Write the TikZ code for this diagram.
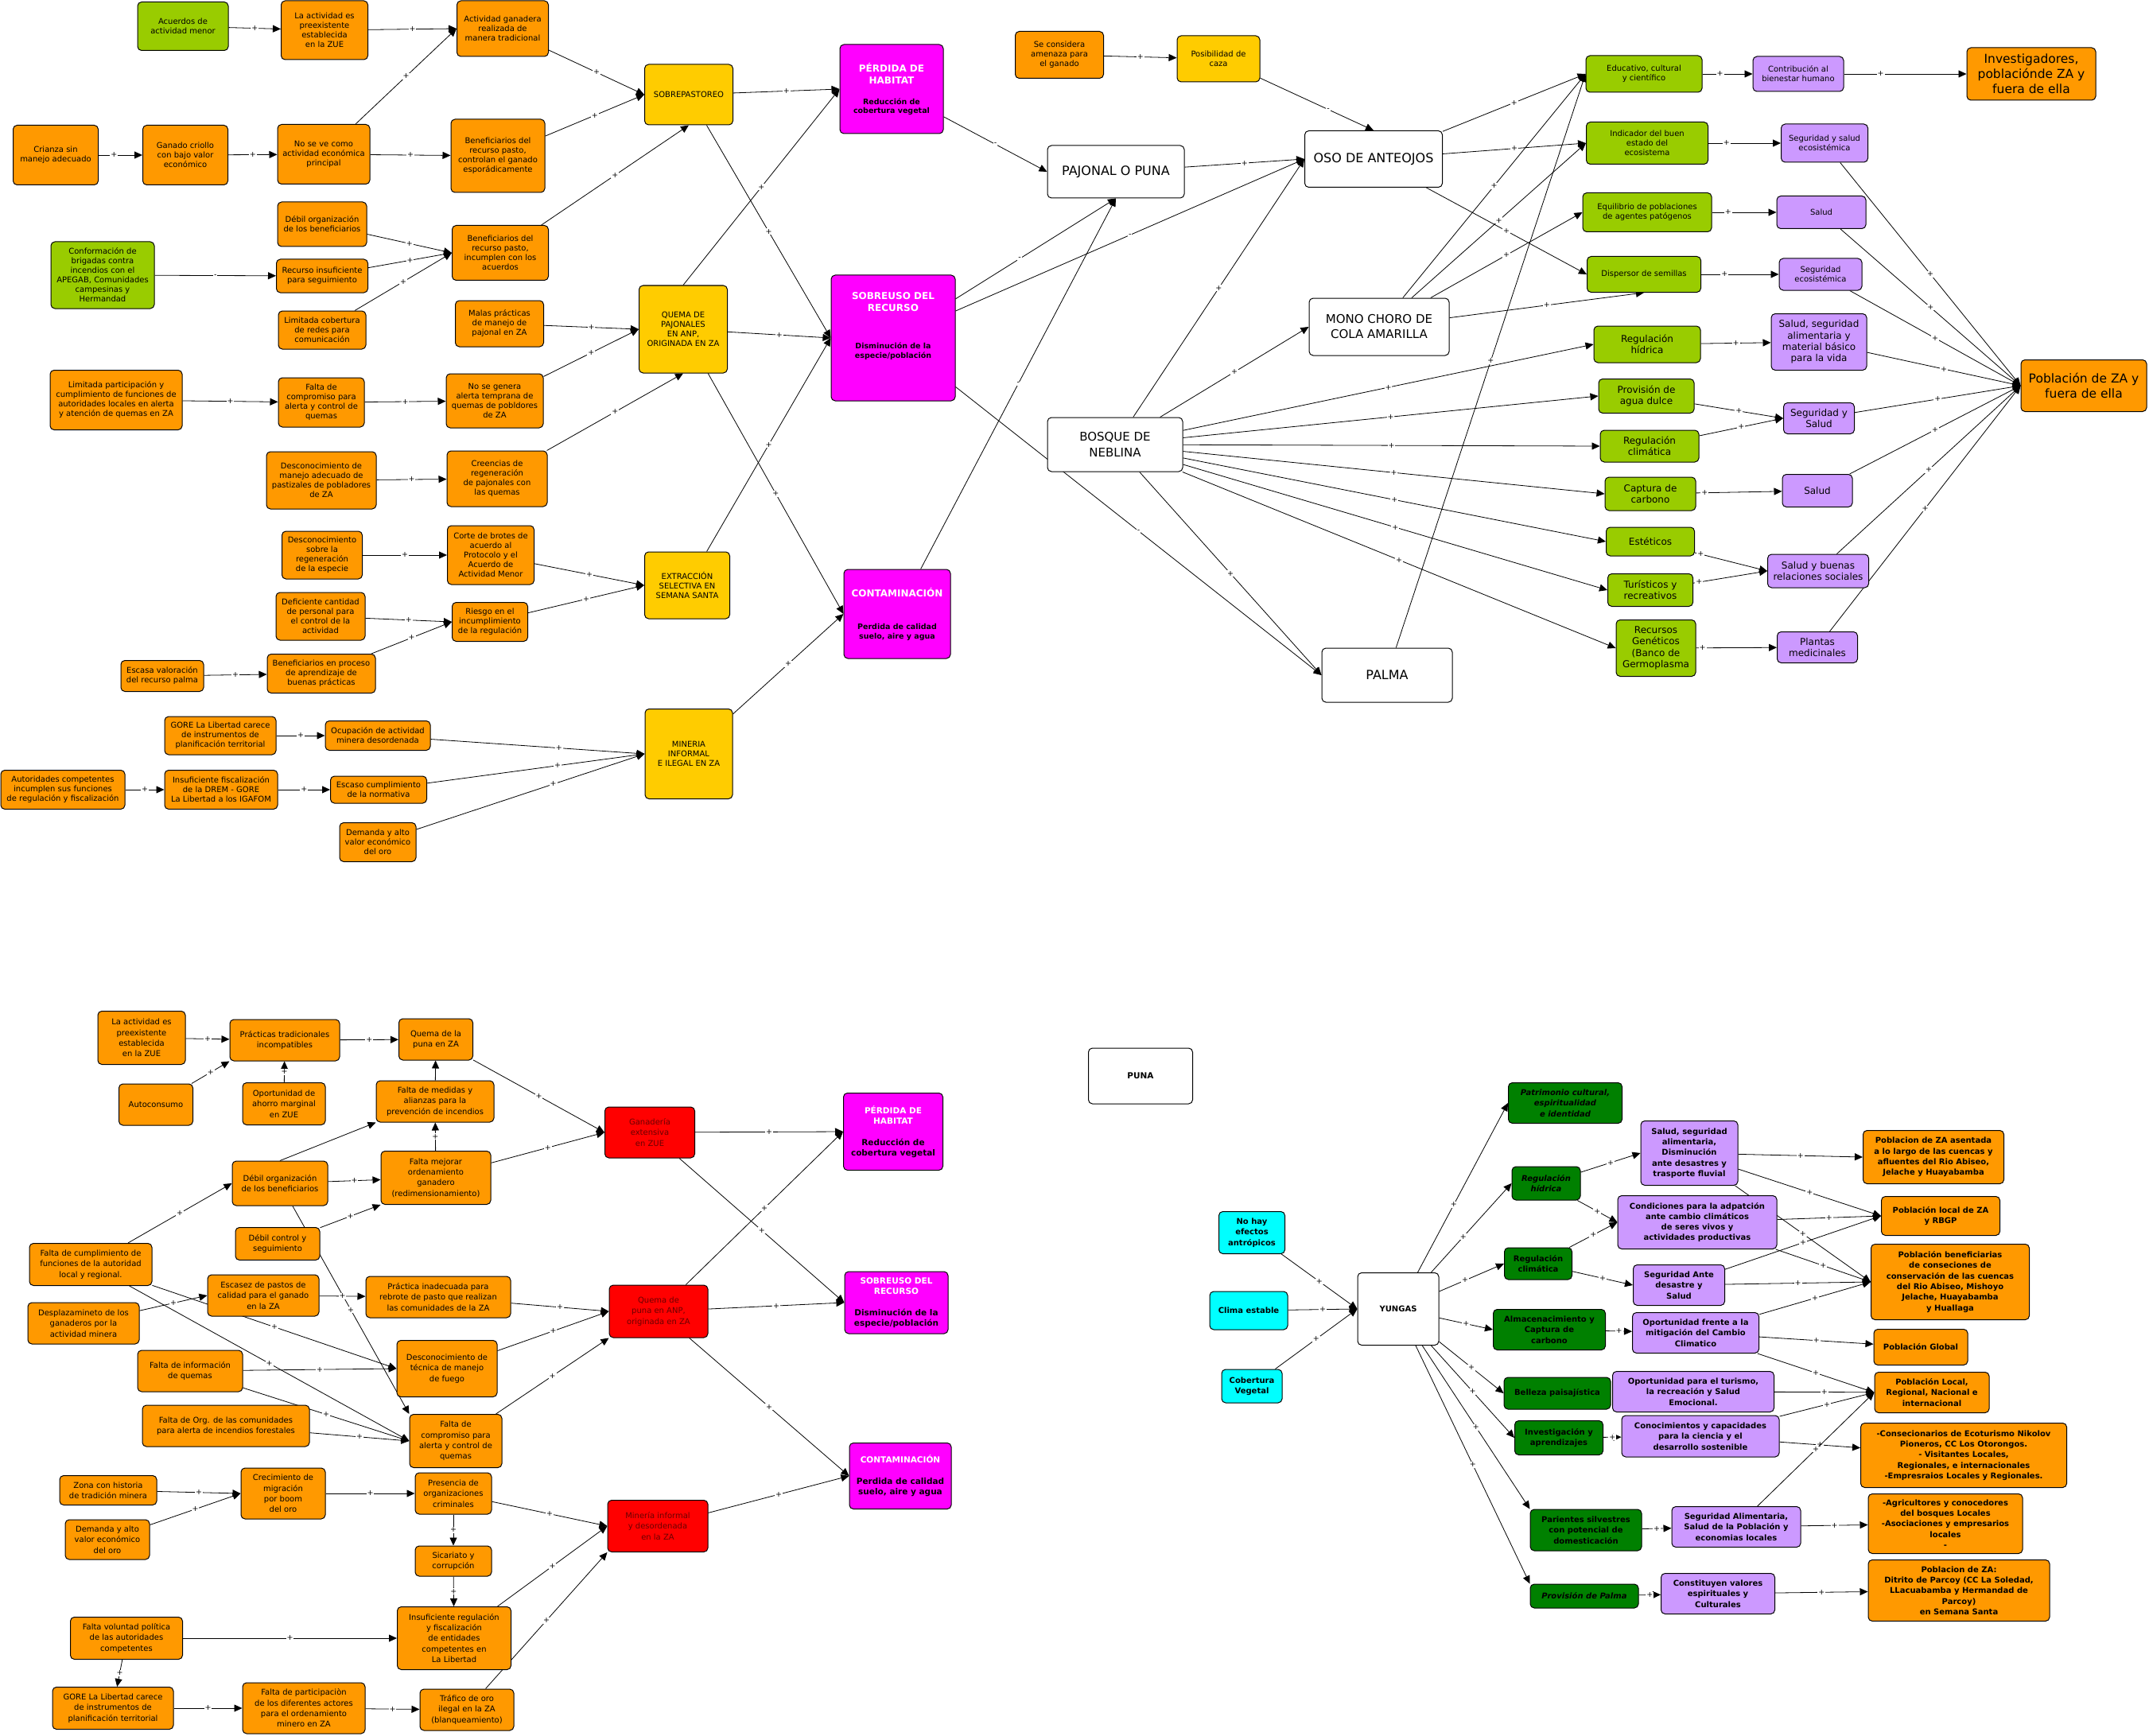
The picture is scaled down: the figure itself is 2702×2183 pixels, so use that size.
\documentclass[tikz,border=0pt]{standalone}
\usepackage{fontspec}
\setmainfont{DejaVu Sans}
\usetikzlibrary{arrows.meta}
\pgfdeclarelayer{background}
\pgfsetlayers{background,main}

\definecolor{naranja}{HTML}{FF9900}
\definecolor{verdeclaro}{HTML}{99CC00}
\definecolor{amarillo}{HTML}{FFCC00}
\definecolor{fucsia}{HTML}{FF00FF}
\definecolor{lila}{HTML}{CC99FF}
\definecolor{rojo}{HTML}{FF0000}
\definecolor{verdeoscuro}{HTML}{008000}
\definecolor{celeste}{HTML}{00FFFF}
\definecolor{granate}{HTML}{6A0000}

\newcommand{\cab}[1]{\textcolor{white}{\fontsize{12}{14}\selectfont #1}}
\newcommand{\cabb}[1]{\textcolor{white}{#1}}

\begin{document}
\begin{tikzpicture}[x=1pt,y=-1pt,
  caja/.style={draw,line width=1pt,rounded corners=5pt,align=center,inner sep=1pt,
    font=\fontsize{10}{12}\selectfont},
  tam/.style 2 args={minimum width=#1pt,minimum height=#2pt},
  nar/.style={caja,fill=naranja},
  ver/.style={caja,fill=verdeclaro},
  ama/.style={caja,fill=amarillo},
  fuc/.style={caja,fill=fucsia,font=\fontsize{9.5}{11.5}\selectfont\bfseries},
  lil/.style={caja,fill=lila},
  roj/.style={caja,fill=rojo,text=granate},
  bla/.style={caja,fill=white},
  vos/.style={caja,fill=verdeoscuro,font=\fontsize{10}{13.3}\selectfont\bfseries},
  cel/.style={caja,fill=celeste,font=\fontsize{10}{13.3}\selectfont\bfseries},
  grande/.style={font=\fontsize{16}{19}\selectfont},
  medio/.style={font=\fontsize{12}{14.3}\selectfont},
  bajo/.style={font=\fontsize{10}{13.3}\selectfont},
  neg/.style={font=\fontsize{10}{13.3}\selectfont\bfseries},
  cur/.style={font=\fontsize{10}{13.3}\selectfont\bfseries\itshape},
  flecha/.style={-{Triangle[length=10pt,width=9pt]},line width=0.8pt},
  mas/.style={fill=white,inner sep=1pt,font=\fontsize{9.5}{9.5}\selectfont}]
  \useasboundingbox (0,0) rectangle (2702,2183);
  % --- parte superior: causas ---
  \node[ver,tam={114}{61}] (acuerdos) at (230,33) {Acuerdos de\\actividad menor};
  \node[nar,tam={109}{74}] (preexist) at (408,38) {La actividad es\\preexistente\\establecida\\en la ZUE};
  \node[nar,tam={115}{70}] (actganadera) at (632,36) {Actividad ganadera\\realizada de\\manera tradicional};
  \node[nar,tam={107}{75}] (crianza) at (70,195) {Crianza sin\\manejo adecuado};
  \node[nar,tam={107}{75}] (ganado) at (233,195) {Ganado criollo\\con bajo valor\\económico};
  \node[nar,tam={116}{75}] (noseve) at (407,194) {No se ve como\\actividad económica\\principal};
  \node[nar,tam={118}{92}] (benefcontrolan) at (626,196) {Beneficiarios del\\recurso pasto,\\controlan el ganado\\esporádicamente};
  \node[nar,tam={112}{56}] (debilorg) at (405,282) {Débil organización\\de los beneficiarios};
  \node[nar,tam={121}{69}] (benefincumplen) at (629,318) {Beneficiarios del\\recurso pasto,\\incumplen con los\\acuerdos};
  \node[ver,tam={130}{84}] (brigadas) at (129,346) {Conformación de\\brigadas contra\\incendios  con el\\APEGAB, Comunidades\\campesinas y\\Hermandad};
  \node[nar,tam={115}{42}] (recursoins) at (405,347) {Recurso insuficiente\\para seguimiento};
  \node[nar,tam={110}{48}] (limcobertura) at (405,415) {Limitada cobertura\\de redes para\\comunicación};
  \node[nar,tam={111}{58}] (malaspract) at (628,407) {Malas prácticas\\de manejo de\\pajonal en ZA};
  \node[nar,tam={166}{75}] (limpartic) at (146,503) {Limitada participación y\\cumplimiento de funciones de\\autoridades locales en alerta\\y atención de quemas en ZA};
  \node[nar,tam={108}{62}] (faltacompr) at (404,506) {Falta de\\compromiso para\\alerta y control de\\quemas};
  \node[nar,tam={122}{68}] (nosegenera) at (622,504) {No se genera\\alerta temprana de\\quemas de pobldores\\de ZA};
  \node[nar,tam={138}{72}] (desconpast) at (404,604) {Desconocimiento de\\manejo adecuado de\\pastizales de pobladores\\de ZA};
  \node[nar,tam={126}{70}] (creencias) at (625,602) {Creencias de\\regeneración\\de pajonales con\\las quemas};
  \node[nar,tam={101}{60}] (desconreg) at (405,698) {Desconocimiento\\sobre la\\regeneración\\de la especie};
  \node[nar,tam={109}{74}] (cortebrotes) at (617,698) {Corte de brotes de\\acuerdo al\\Protocolo y el\\Acuerdo de\\Actividad Menor};
  \node[nar,tam={112}{60}] (deficiente) at (403,775) {Deficiente cantidad\\de personal para\\el control de la\\actividad};
  \node[nar,tam={95}{49}] (riesgo) at (616,782) {Riesgo en el\\incumplimiento\\de la regulación};
  \node[nar,tam={104}{39}] (escasaval) at (204,850) {Escasa valoración\\del recurso palma};
  \node[nar,tam={136}{49}] (benefproceso) at (404,847) {Beneficiarios en proceso\\de aprendizaje de\\buenas prácticas};
  \node[nar,tam={140}{48}] (gore) at (277,925) {GORE La Libertad carece\\de instrumentos de\\planificación territorial};
  \node[nar,tam={132}{37}] (ocupacion) at (475,925) {Ocupación de actividad\\minera desordenada};
  \node[nar,tam={156}{49}] (autoridades) at (79,993) {Autoridades competentes\\incumplen sus funciones\\de regulación y fiscalización};
  \node[nar,tam={142}{49}] (insuffisc) at (278,993) {Insuficiente fiscalización\\de la DREM - GORE\\La Libertad a los IGAFOM};
  \node[nar,tam={121}{34}] (escasocumpl) at (476,993) {Escaso cumplimiento\\de la normativa};
  \node[nar,tam={96}{49}] (demandaoro) at (475,1059) {Demanda y alto\\valor económico\\del oro};
  % --- amenazas y efectos ---
  \node[ama,tam={111}{76}] (sobrepastoreo) at (866,119) {SOBREPASTOREO};
  \node[fuc,tam={130}{112}] (perdida) at (1121,112) {\cab{PÉRDIDA DE}\\[3.5pt]\cab{HABITAT}\\[14pt]Reducción de\\cobertura vegetal};
  \node[ama,tam={111}{110}] (quemapaj) at (859,414) {QUEMA DE\\PAJONALES\\EN ANP,\\ORIGINADA EN ZA};
  \node[fuc,tam={156}{158}] (sobreuso) at (1123,425) {\cab{SOBREUSO DEL}\\[3.5pt]\cab{RECURSO}\\[36pt]Disminución de la\\especie/población\\[21pt]\mbox{}};
  \node[ama,tam={107}{84}] (extraccion) at (864,736) {EXTRACCIÓN\\SELECTIVA EN\\SEMANA SANTA};
  \node[fuc,tam={134}{112}] (contaminacion) at (1128,772) {\cab{CONTAMINACIÓN}\\[30pt]Perdida de calidad\\suelo, aire y agua};
  \node[ama,tam={110}{113}] (mineria) at (866,948) {MINERIA\\INFORMAL\\E ILEGAL EN ZA};
  % --- objetos de conservacion ---
  \node[nar,tam={111}{59}] (amenaza) at (1332,69) {Se considera\\amenaza para\\el ganado};
  \node[ama,tam={104}{58}] (caza) at (1532,74) {Posibilidad de\\caza};
  \node[bla,grande,tam={172}{66}] (pajonal) at (1403,216) {PAJONAL O PUNA};
  \node[bla,grande,tam={173}{71}] (oso) at (1727,200) {OSO DE ANTEOJOS};
  \node[bla,font=\fontsize{15}{19}\selectfont,tam={176}{72}] (mono) at (1734,411) {MONO CHORO DE\\COLA AMARILLA};
  \node[bla,font=\fontsize{15}{20}\selectfont,tam={170}{68}] (bosque) at (1402,559) {BOSQUE DE\\NEBLINA};
  \node[bla,grande,tam={164}{68}] (palma) at (1744,849) {PALMA};
  % --- servicios y beneficios ---
  \node[ver,tam={146}{46}] (educativo) at (2067,93) {Educativo, cultural\\y científico};
  \node[lil,tam={114}{44}] (contribucion) at (2261,93) {Contribución al\\bienestar humano};
  \node[nar,font=\fontsize{15.5}{19}\selectfont,tam={162}{66}] (investigadores) at (2554,93) {Investigadores,\\poblaciónde ZA y\\fuera de ella};
  \node[ver,tam={153}{53}] (indicador) at (2071,180) {Indicador del buen\\estado del\\ecosistema};
  \node[lil,tam={109}{48}] (segsaludeco) at (2294,180) {Seguridad y salud\\ecosistémica};
  \node[ver,tam={162}{49}] (equilibrio) at (2071,267) {Equilibrio de poblaciones\\de agentes patógenos};
  \node[lil,tam={112}{41}] (salud1) at (2290,267) {Salud};
  \node[ver,tam={143}{45}] (dispersor) at (2067,345) {Dispersor de semillas};
  \node[lil,tam={104}{40}] (segeco) at (2289,345) {Seguridad\\ecosistémica};
  \node[ver,medio,tam={134}{46}] (reghidrica) at (2071,433) {Regulación\\hídrica};
  \node[lil,medio,tam={120}{71}] (saludseg) at (2287,430) {Salud, seguridad\\alimentaria y\\material básico\\para la vida};
  \node[nar,font=\fontsize{15.5}{19}\selectfont,tam={158}{65}] (poblacionZA) at (2620,485) {Población de ZA y\\fuera de ella};
  \node[ver,medio,tam={120}{43}] (provagua) at (2070,498) {Provisión de\\agua dulce};
  \node[lil,medio,tam={89}{39}] (segsalud2) at (2287,526) {Seguridad y\\Salud};
  \node[ver,medio,tam={124}{40}] (regclimatica) at (2074,561) {Regulación\\climática};
  \node[ver,medio,tam={114}{42}] (captura) at (2075,621) {Captura de\\carbono};
  \node[lil,medio,tam={88}{41}] (salud2) at (2285,617) {Salud};
  \node[ver,medio,tam={111}{36}] (esteticos) at (2075,681) {Estéticos};
  \node[ver,medio,tam={107}{41}] (turisticos) at (2075,742) {Turísticos y\\recreativos};
  \node[lil,medio,tam={127}{42}] (saludbuenas) at (2286,718) {Salud y buenas\\relaciones sociales};
  \node[ver,medio,tam={100}{71}] (recursosgen) at (2082,815) {Recursos\\Genéticos\\(Banco de\\Germoplasma};
  \node[lil,medio,tam={101}{39}] (plantas) at (2285,814) {Plantas\\medicinales};
  % --- parte inferior izquierda ---
  \node[nar,bajo,tam={110}{67}] (blpreexist) at (178,1305) {La actividad es\\preexistente\\establecida\\en la ZUE};
  \node[nar,bajo,tam={138}{52}] (practicas) at (358,1308) {Prácticas tradicionales\\incompatibles};
  \node[nar,bajo,tam={93}{52}] (quemapuna) at (548,1307) {Quema de la\\puna en ZA};
  \node[nar,bajo,tam={93}{52}] (autoconsumo) at (196,1389) {Autoconsumo};
  \node[nar,bajo,tam={104}{53}] (oportunidad) at (357,1388) {Oportunidad de\\ahorro marginal\\en ZUE};
  \node[nar,bajo,tam={148}{52}] (faltamedidas) at (547,1385) {Falta de medidas y\\alianzas para la\\prevención de incendios};
  \node[roj,bajo,tam={113}{64}] (ganaderia) at (817,1424) {Ganadería\\extensiva\\en ZUE};
  \node[nar,bajo,tam={120}{56}] (bldebilorg) at (352,1488) {Débil organización\\de los beneficiarios};
  \node[nar,bajo,tam={138}{67}] (faltamejorar) at (548,1481) {Falta mejorar\\ordenamiento\\ganadero\\(redimensionamiento)};
  \node[nar,bajo,tam={106}{41}] (debilcontrol) at (349,1564) {Débil control y\\seguimiento};
  \node[nar,bajo,tam={154}{53}] (faltacumpl) at (114,1590) {Falta de cumplimiento de\\funciones de la autoridad\\local y regional.};
  \node[nar,bajo,tam={140}{52}] (escasez) at (331,1629) {Escasez de pastos de\\calidad para el ganado\\en la ZA};
  \node[nar,bajo,tam={182}{52}] (practicainad) at (551,1631) {Práctica inadecuada para\\rebrote de pasto que realizan\\las comunidades de la ZA};
  \node[roj,bajo,tam={124}{66}] (quemapunaanp) at (828,1649) {Quema de\\puna en ANP,\\originada en ZA};
  \node[nar,bajo,tam={140}{52}] (desplazamiento) at (105,1664) {Desplazamineto de los\\ganaderos por la\\actividad minera};
  \node[nar,bajo,tam={126}{71}] (descontecnica) at (562,1721) {Desconocimiento de\\técnica de manejo\\de fuego};
  \node[nar,bajo,tam={132}{52}] (faltainfo) at (239,1724) {Falta de información\\de quemas};
  \node[nar,bajo,tam={210}{52}] (faltaorg) at (284,1793) {Falta de Org. de las comunidades\\para alerta de incendios forestales};
  \node[nar,bajo,tam={116}{67}] (blfaltacompr) at (573,1812) {Falta de\\compromiso para\\alerta y control de\\quemas};
  \node[nar,bajo,tam={122}{37}] (zonahist) at (136,1874) {Zona con historia\\de tradición minera};
  \node[nar,bajo,tam={106}{64}] (crecimiento) at (356,1878) {Crecimiento de\\migración\\por boom\\del oro};
  \node[nar,bajo,tam={96}{52}] (presencia) at (570,1878) {Presencia de\\organizaciones\\criminales};
  \node[nar,bajo,tam={106}{50}] (demandaoro2) at (135,1936) {Demanda y alto\\valor económico\\del oro};
  \node[roj,bajo,tam={126}{65}] (mineriainf) at (827,1919) {Minería informal\\y desordenada\\en la ZA};
  \node[nar,bajo,tam={96}{38}] (sicariato) at (570,1963) {Sicariato y\\corrupción};
  \node[nar,bajo,tam={143}{79}] (insufreg) at (571,2060) {Insuficiente regulación\\y fiscalización\\de entidades\\competentes en\\La Libertad};
  \node[nar,bajo,tam={141}{53}] (faltavoluntad) at (159,2060) {Falta voluntad política\\de las autoridades\\competentes};
  \node[nar,bajo,tam={152}{53}] (goreb) at (142,2148) {GORE La Libertad carece\\de instrumentos de\\planificación territorial};
  \node[nar,bajo,tam={154}{64}] (faltapartic) at (382,2148) {Falta de participaciòn\\de los diferentes actores\\para el ordenamiento\\minero en ZA};
  \node[nar,bajo,tam={118}{52}] (trafico) at (587,2150) {Tráfico de oro\\ilegal en la ZA\\(blanqueamiento)};
  \node[fuc,font=\fontsize{10.5}{13}\selectfont\bfseries,tam={125}{97}] (blperdida) at (1123,1423) {\cabb{PÉRDIDA DE}\\\cabb{HABITAT}\\[14pt]Reducción de\\cobertura vegetal};
  \node[fuc,font=\fontsize{10.5}{13}\selectfont\bfseries,tam={130}{78}] (blsobreuso) at (1127,1638) {\cabb{SOBREUSO DEL}\\\cabb{RECURSO}\\[14pt]Disminución de la\\especie/población};
  \node[fuc,font=\fontsize{10.5}{13}\selectfont\bfseries,tam={128}{83}] (blcontam) at (1132,1856) {\cabb{CONTAMINACIÓN}\\[14pt]Perdida de calidad\\suelo, aire y agua};
  \node[bla,font=\fontsize{10.5}{13}\selectfont\bfseries,tam={131}{70}] (puna) at (1434,1353) {PUNA};
  % --- parte inferior derecha: yungas ---
  \node[cel,tam={83}{53}] (nohay) at (1574,1550) {No hay\\efectos\\antrópicos};
  \node[cel,tam={98}{48}] (clima) at (1570,1648) {Clima estable};
  \node[cel,tam={76}{42}] (cobertura) at (1574,1743) {Cobertura\\Vegetal};
  \node[bla,neg,tam={102}{91}] (yungas) at (1758,1646) {YUNGAS};
  \node[vos,cur,tam={143}{51}] (patrimonio) at (1968,1387) {Patrimonio cultural,\\espiritualidad\\e identidad};
  \node[vos,cur,tam={86}{42}] (reghidrica2) at (1944,1488) {Regulación\\hídrica};
  \node[lil,neg,tam={122}{81}] (saludseg2) at (2124,1450) {Salud, seguridad\\alimentaria,\\Disminución\\ante desastres y\\trasporte fluvial};
  \node[nar,neg,tam={177}{67}] (poblacionZAas) at (2431,1455) {Poblacion de ZA asentada\\a lo largo de las cuencas y\\afluentes  del Rio Abiseo,\\Jelache y Huayabamba};
  \node[lil,neg,tam={200}{67}] (condiciones) at (2134,1537) {Condiciones para la adpatción\\ante cambio climáticos\\de seres vivos y\\actividades productivas};
  \node[nar,neg,tam={149}{49}] (poblocal) at (2440,1529) {Población local  de ZA\\y RBGP};
  \node[vos,tam={85}{40}] (regclim2) at (1934,1589) {Regulación\\climática};
  \node[lil,neg,tam={115}{51}] (segante) at (2111,1616) {Seguridad Ante\\desastre y\\Salud};
  \node[nar,neg,tam={199}{95}] (pobbenef) at (2452,1612) {Población beneficiarias\\de conseciones de\\conservación de las cuencas\\del Rio Abiseo, Mishoyo\\Jelache, Huayabamba\\y Huallaga};
  \node[vos,tam={141}{51}] (almacen) at (1948,1672) {Almacenacimiento y\\Captura de\\carbono};
  \node[lil,neg,tam={159}{51}] (oportunidadmit) at (2132,1676) {Oportunidad frente a la\\mitigación del  Cambio\\Climatico};
  \node[nar,neg,tam={118}{45}] (pobglobal) at (2415,1694) {Población Global};
  \node[vos,tam={134}{40}] (belleza) at (1958,1752) {Belleza paisajística};
  \node[lil,neg,tam={203}{51}] (oportur) at (2129,1750) {Oportunidad para el turismo,\\la recreación y Salud\\Emocional.};
  \node[nar,neg,tam={144}{51}] (poblocalreg) at (2429,1751) {Población Local,\\Regional, Nacional e\\internacional};
  \node[vos,tam={111}{43}] (investig) at (1960,1808) {Investigación y\\aprendizajes};
  \node[lil,neg,tam={198}{52}] (conocimientos) at (2138,1806) {Conocimientos y capacidades\\para la ciencia y el\\desarrollo sostenible};
  \node[nar,neg,tam={259}{81}] (consecionarios) at (2469,1830) {-Consecionarios de Ecoturismo Nikolov\\Pioneros, CC Los Otorongos.\\- Visitantes Locales,\\Regionales, e internacionales\\-Empresraios Locales y Regionales.};
  \node[vos,tam={140}{52}] (parientes) at (1994,1924) {Parientes silvestres\\con potencial de\\domesticación};
  \node[lil,neg,tam={162}{51}] (segalim) at (2183,1920) {Seguridad Alimentaria,\\Salud de la Población y\\economias locales};
  \node[nar,neg,tam={194}{75}] (agricultores) at (2446,1916) {-Agricultores y conocedores\\del bosques Locales\\-Asociaciones y empresarios\\locales\\-};
  \node[vos,cur,tam={136}{30}] (provpalma) at (1992,2007) {Provisión de Palma};
  \node[lil,neg,tam={143}{51}] (constituyen) at (2160,2004) {Constituyen valores\\espirituales y\\Culturales};
  \node[nar,neg,tam={228}{77}] (poblacionparcoy) at (2463,2000) {Poblacion de ZA:\\Ditrito de Parcoy (CC La Soledad,\\LLacuabamba y Hermandad de\\Parcoy)\\en Semana Santa};
  \begin{pgfonlayer}{background}
  \fill[white] (0,0) rectangle (2702,2183);
  % --- conectores parte superior ---
  \draw[flecha] (acuerdos) -- node[mas]{+} (preexist);
  \draw[flecha] (preexist) -- node[mas]{+} (actganadera.west);
  \draw[flecha] (noseve) -- node[mas]{+} (actganadera.west);
  \draw[flecha] (crianza) -- node[mas,pos=0.35]{+} (ganado);
  \draw[flecha] (ganado) -- node[mas]{+} (noseve);
  \draw[flecha] (noseve) -- node[mas]{+} (benefcontrolan);
  \draw[flecha] (actganadera) -- node[mas]{+} (sobrepastoreo.west);
  \draw[flecha] (benefcontrolan) -- node[mas]{+} (sobrepastoreo.west);
  \draw[flecha] (benefincumplen) -- node[mas]{+} (sobrepastoreo.south);
  \draw[flecha] (debilorg) -- node[mas]{+} (benefincumplen.west);
  \draw[flecha] (recursoins) -- node[mas]{+} (benefincumplen.west);
  \draw[flecha] (limcobertura) -- node[mas]{+} (benefincumplen.west);
  \draw[flecha] (brigadas) -- node[mas]{-} (recursoins);
  \draw[flecha] (malaspract) -- node[mas]{+} (quemapaj.west);
  \draw[flecha] (nosegenera) -- node[mas]{+} (quemapaj.west);
  \draw[flecha] (limpartic) -- node[mas]{+} (faltacompr);
  \draw[flecha] (faltacompr) -- node[mas]{+} (nosegenera);
  \draw[flecha] (desconpast) -- node[mas]{+} (creencias);
  \draw[flecha] (creencias) -- node[mas]{+} (quemapaj.south);
  \draw[flecha] (desconreg) -- node[mas]{+} (cortebrotes);
  \draw[flecha] (cortebrotes) -- node[mas]{+} (extraccion.west);
  \draw[flecha] (riesgo) -- node[mas]{+} (extraccion.west);
  \draw[flecha] (deficiente) -- node[mas]{+} (riesgo.west);
  \draw[flecha] (benefproceso) -- node[mas]{+} (riesgo.west);
  \draw[flecha] (escasaval) -- node[mas]{+} (benefproceso);
  \draw[flecha] (gore) -- node[mas]{+} (ocupacion);
  \draw[flecha] (autoridades) -- node[mas]{+} (insuffisc);
  \draw[flecha] (insuffisc) -- node[mas]{+} (escasocumpl);
  \draw[flecha] (ocupacion) -- node[mas,pos=0.6]{+} (mineria.west);
  \draw[flecha] (escasocumpl) -- node[mas,pos=0.6]{+} (mineria.west);
  \draw[flecha] (demandaoro) -- node[mas,pos=0.6]{+} (mineria.west);
  \draw[flecha] (sobrepastoreo) -- node[mas]{+} (perdida.west);
  \draw[flecha] (sobrepastoreo) -- node[mas]{+} (sobreuso.west);
  \draw[flecha] (quemapaj.north) -- node[mas]{+} (perdida.west);
  \draw[flecha] (quemapaj) -- node[mas]{+} (sobreuso.west);
  \draw[flecha] (quemapaj) -- node[mas]{+} (contaminacion.west);
  \draw[flecha] (extraccion) -- node[mas]{+} (sobreuso.west);
  \draw[flecha] (mineria) -- node[mas]{+} (contaminacion.west);
  \draw[flecha] (perdida) -- node[mas]{-} (pajonal.west);
  \draw[flecha] (sobreuso) -- node[mas,pos=0.4]{-} (pajonal.south);
  \draw[flecha] (contaminacion) -- node[mas]{-} (pajonal.south);
  \draw[flecha] (sobreuso) -- node[mas]{-} (oso.west);
  \draw[flecha] (sobreuso) -- node[mas]{-} (palma.west);
  \draw[flecha] (amenaza) -- node[mas]{+} (caza);
  \draw[flecha] (caza) -- node[mas,pos=0.6]{-} (oso.north);
  \draw[flecha] (pajonal) -- node[mas]{+} (oso.west);
  \draw[flecha] (bosque) -- node[mas]{+} (oso.west);
  \draw[flecha] (bosque) -- node[mas]{+} (mono.west);
  \draw[flecha] (bosque) -- node[mas]{+} (palma.west);
  \draw[flecha] (oso) -- node[mas]{+} (educativo.west);
  \draw[flecha] (oso) -- node[mas]{+} (indicador.west);
  \draw[flecha] (oso) -- node[mas]{+} (dispersor.west);
  \draw[flecha] (mono) -- node[mas]{+} (educativo.west);
  \draw[flecha] (mono) -- node[mas]{+} (indicador.west);
  \draw[flecha] (mono) -- node[mas]{+} (equilibrio.west);
  \draw[flecha] (mono) -- node[mas]{+} (dispersor.south);
  \draw[flecha] (palma) -- node[mas]{+} (educativo.west);
  \draw[flecha] (bosque) -- node[mas]{+} (reghidrica.west);
  \draw[flecha] (bosque) -- node[mas]{+} (provagua.west);
  \draw[flecha] (bosque) -- node[mas]{+} (regclimatica.west);
  \draw[flecha] (bosque) -- node[mas]{+} (captura.west);
  \draw[flecha] (bosque) -- node[mas]{+} (esteticos.west);
  \draw[flecha] (bosque) -- node[mas]{+} (turisticos.west);
  \draw[flecha] (bosque) -- node[mas]{+} (recursosgen.west);
  \draw[flecha] (educativo) -- node[mas,pos=0.35]{+} (contribucion);
  \draw[flecha] (contribucion) -- node[mas,pos=0.3]{+} (investigadores);
  \draw[flecha] (indicador) -- node[mas,pos=0.25]{+} (segsaludeco);
  \draw[flecha] (equilibrio) -- node[mas,pos=0.25]{+} (salud1);
  \draw[flecha] (dispersor) -- node[mas,pos=0.3]{+} (segeco);
  \draw[flecha] (reghidrica) -- node[mas]{+} (saludseg);
  \draw[flecha] (provagua) -- node[mas]{+} (segsalud2.west);
  \draw[flecha] (regclimatica) -- node[mas]{+} (segsalud2.west);
  \draw[flecha] (captura) -- node[mas,pos=0.1]{+} (salud2);
  \draw[flecha] (esteticos) -- node[mas,pos=0.08]{+} (saludbuenas.west);
  \draw[flecha] (turisticos) -- node[mas,pos=0.08]{+} (saludbuenas.west);
  \draw[flecha] (recursosgen) -- node[mas,pos=0.08]{+} (plantas);
  \draw[flecha] (segsaludeco) -- node[mas]{+} (poblacionZA.west);
  \draw[flecha] (salud1) -- node[mas]{+} (poblacionZA.west);
  \draw[flecha] (segeco) -- node[mas]{+} (poblacionZA.west);
  \draw[flecha] (saludseg) -- node[mas]{+} (poblacionZA.west);
  \draw[flecha] (segsalud2) -- node[mas]{+} (poblacionZA.west);
  \draw[flecha] (salud2) -- node[mas]{+} (poblacionZA.west);
  \draw[flecha] (saludbuenas) -- node[mas]{+} (poblacionZA.west);
  \draw[flecha] (plantas) -- node[mas]{+} (poblacionZA.west);
  % --- conectores parte inferior izquierda ---
  \draw[flecha] (blpreexist) -- node[mas]{+} (practicas);
  \draw[flecha] (autoconsumo) -- node[mas]{+} (practicas.south west);
  \draw[flecha] (oportunidad) -- node[mas]{+} (practicas);
  \draw[flecha] (practicas) -- node[mas]{+} (quemapuna);
  \draw[flecha] (faltamedidas) -- (quemapuna);
  \draw[flecha] (faltamejorar) -- node[mas]{+} (faltamedidas);
  \draw[flecha] (bldebilorg.north) -- (faltamedidas.south west);
  \draw[flecha] (bldebilorg) -- node[mas]{+} (faltamejorar);
  \draw[flecha] (debilcontrol) -- node[mas]{+} (faltamejorar.south west);
  \draw[flecha] (quemapuna) -- node[mas]{+} (ganaderia.west);
  \draw[flecha] (faltamejorar) -- node[mas]{+} (ganaderia.west);
  \draw[flecha] (faltacumpl) -- node[mas]{+} (bldebilorg.west);
  \draw[flecha] (faltacumpl) -- node[mas]{+} (descontecnica.west);
  \draw[flecha] (faltacumpl) -- node[mas]{+} (blfaltacompr.west);
  \draw[flecha] (bldebilorg) -- node[mas]{+} (blfaltacompr.north west);
  \draw[flecha] (desplazamiento) -- node[mas]{+} (escasez.west);
  \draw[flecha] (escasez) -- node[mas]{+} (practicainad);
  \draw[flecha] (practicainad) -- node[mas]{+} (quemapunaanp.west);
  \draw[flecha] (descontecnica) -- node[mas]{+} (quemapunaanp.west);
  \draw[flecha] (blfaltacompr) -- node[mas]{+} (quemapunaanp.south west);
  \draw[flecha] (faltainfo) -- node[mas]{+} (descontecnica.west);
  \draw[flecha] (faltainfo) -- node[mas]{+} (blfaltacompr.west);
  \draw[flecha] (faltaorg) -- node[mas]{+} (blfaltacompr.west);
  \draw[flecha] (ganaderia) -- node[mas]{+} (blperdida.west);
  \draw[flecha] (ganaderia) -- node[mas]{+} (blsobreuso.west);
  \draw[flecha] (quemapunaanp) -- node[mas]{+} (blperdida.west);
  \draw[flecha] (quemapunaanp) -- node[mas]{+} (blsobreuso.west);
  \draw[flecha] (quemapunaanp) -- node[mas]{+} (blcontam.west);
  \draw[flecha] (mineriainf) -- node[mas]{+} (blcontam.west);
  \draw[flecha] (zonahist) -- node[mas]{+} (crecimiento.west);
  \draw[flecha] (demandaoro2) -- node[mas]{+} (crecimiento.west);
  \draw[flecha] (crecimiento) -- node[mas]{+} (presencia);
  \draw[flecha] (presencia) -- node[mas]{+} (mineriainf.west);
  \draw[flecha] (presencia) -- node[mas]{+} (sicariato);
  \draw[flecha] (sicariato) -- node[mas]{+} (insufreg);
  \draw[flecha] (faltavoluntad) -- node[mas]{+} (insufreg);
  \draw[flecha] (faltavoluntad) -- node[mas]{+} (goreb);
  \draw[flecha] (goreb) -- node[mas]{+} (faltapartic);
  \draw[flecha] (faltapartic) -- node[mas]{+} (trafico);
  \draw[flecha] (insufreg) -- node[mas]{+} (mineriainf.west);
  \draw[flecha] (trafico) -- node[mas]{+} (mineriainf.south west);
  % --- conectores parte inferior derecha ---
  \draw[flecha] (nohay) -- node[mas]{+} (yungas.west);
  \draw[flecha] (clima) -- node[mas]{+} (yungas.west);
  \draw[flecha] (cobertura) -- node[mas]{+} (yungas.west);
  \draw[flecha] (yungas) -- node[mas,pos=0.4]{+} (patrimonio.west);
  \draw[flecha] (yungas) -- node[mas,pos=0.4]{+} (reghidrica2.west);
  \draw[flecha] (yungas) -- node[mas,pos=0.4]{+} (regclim2.west);
  \draw[flecha] (yungas) -- node[mas]{+} (almacen.west);
  \draw[flecha] (yungas) -- node[mas]{+} (belleza.west);
  \draw[flecha] (yungas) -- node[mas]{+} (investig.west);
  \draw[flecha] (yungas) -- node[mas]{+} (parientes.north west);
  \draw[flecha] (yungas) -- node[mas]{+} (provpalma.north west);
  \draw[flecha] (reghidrica2) -- node[mas]{+} (saludseg2.west);
  \draw[flecha] (reghidrica2) -- node[mas]{+} (condiciones.west);
  \draw[flecha] (regclim2) -- node[mas]{+} (condiciones.west);
  \draw[flecha] (regclim2) -- node[mas]{+} (segante.west);
  \draw[flecha] (almacen) -- node[mas]{+} (oportunidadmit);
  \draw[flecha] (investig) -- node[mas]{+} (conocimientos);
  \draw[flecha] (parientes) -- node[mas]{+} (segalim);
  \draw[flecha] (provpalma) -- node[mas]{+} (constituyen);
  \draw[flecha] (saludseg2) -- node[mas]{+} (poblacionZAas.west);
  \draw[flecha] (saludseg2) -- node[mas]{+} (poblocal.west);
  \draw[flecha] (saludseg2) -- node[mas]{+} (pobbenef.west);
  \draw[flecha] (condiciones) -- node[mas]{+} (poblocal.west);
  \draw[flecha] (condiciones) -- node[mas]{+} (pobbenef.west);
  \draw[flecha] (segante) -- node[mas]{+} (poblocal.west);
  \draw[flecha] (segante) -- node[mas]{+} (pobbenef.west);
  \draw[flecha] (oportunidadmit) -- node[mas]{+} (pobbenef.west);
  \draw[flecha] (oportunidadmit) -- node[mas]{+} (pobglobal);
  \draw[flecha] (oportunidadmit) -- node[mas]{+} (poblocalreg.west);
  \draw[flecha] (oportur) -- node[mas]{+} (poblocalreg);
  \draw[flecha] (conocimientos) -- node[mas]{+} (poblocalreg.west);
  \draw[flecha] (conocimientos) -- node[mas]{+} (consecionarios);
  \draw[flecha] (segalim) -- node[mas]{+} (poblocalreg.west);
  \draw[flecha] (segalim) -- node[mas]{+} (agricultores);
  \draw[flecha] (constituyen) -- node[mas]{+} (poblacionparcoy);
  \end{pgfonlayer}
\end{tikzpicture}
\end{document}
